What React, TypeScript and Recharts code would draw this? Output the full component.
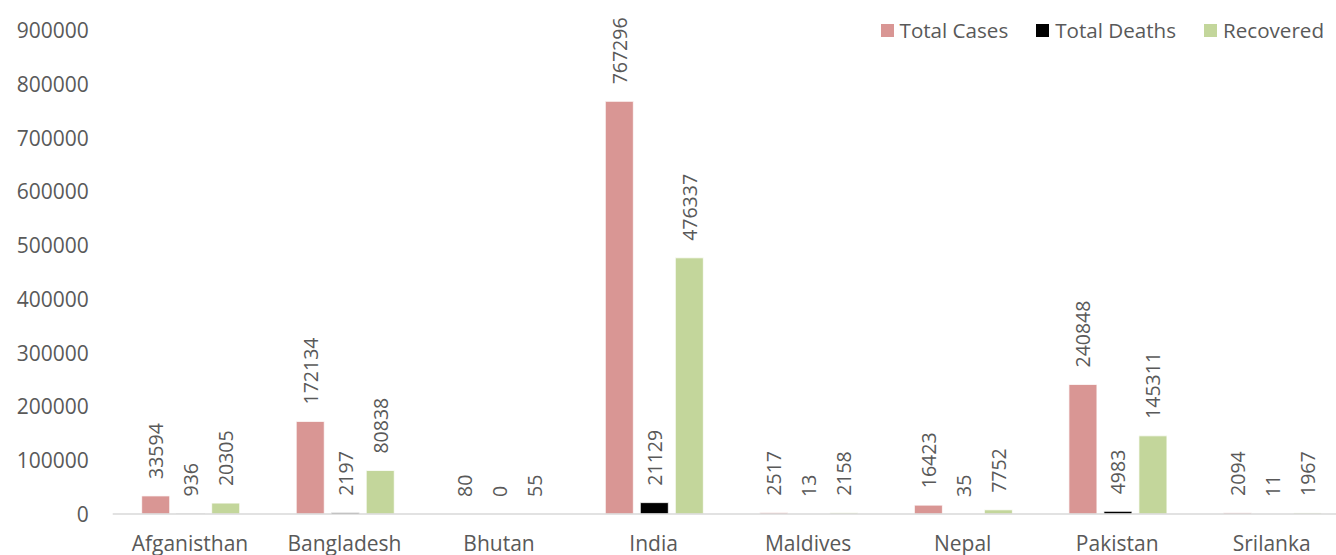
import React from "react";
import { BarChart, Bar, XAxis, YAxis, LabelList } from "recharts";

const countries = ["Afganisthan", "Bangladesh", "Bhutan", "India", "Maldives", "Nepal", "Pakistan", "Srilanka"];
const totalCases = [33594, 172134, 80, 767296, 2517, 16423, 240848, 2094];
const totalDeaths = [936, 2197, 0, 21129, 13, 35, 4983, 11];
const recovered = [20305, 80838, 55, 476337, 2158, 7752, 145311, 1967];
const yTicks = [0, 100000, 200000, 300000, 400000, 500000, 600000, 700000, 800000, 900000];

const series = [
  { key: "cases", name: "Total Cases", color: "#D99694" },
  { key: "deaths", name: "Total Deaths", color: "#000000" },
  { key: "recovered", name: "Recovered", color: "#C3D69B" },
];

const data = countries.map((c, i) => ({
  country: c,
  cases: totalCases[i],
  deaths: totalDeaths[i],
  recovered: recovered[i],
}));

const FONT = "'Open Sans', sans-serif";
const TEXT = "#595959";

const RotLabel = (props: any) => {
  const { x, y, width, value } = props;
  const cx = Number(x) + Number(width) / 2;
  const ty = Number(y) - 17;
  return (
    <text
      x={cx}
      y={ty}
      transform={`rotate(-90 ${cx} ${ty})`}
      textAnchor="start"
      dominantBaseline="central"
      fontFamily={FONT}
      fontSize={19.5}
      fill={TEXT}
    >
      {String(value ?? 0)}
    </text>
  );
};

const XTick = (props: any) => {
  const { x, y, payload } = props;
  return (
    <text x={x} y={y} dy={37} textAnchor="middle" fontFamily={FONT} fontSize={21} fill={TEXT}>
      {payload.value}
    </text>
  );
};

const YTick = (props: any) => {
  const { x, y, payload } = props;
  return (
    <text x={x} y={y} textAnchor="end" dominantBaseline="central" fontFamily={FONT} fontSize={21} fill={TEXT}>
      {payload.value}
    </text>
  );
};

export default function App() {
  return (
    <div
      style={{
        position: "absolute",
        left: 0,
        top: 0,
        width: 1336,
        height: 555,
        overflow: "hidden",
        background: "#fff",
      }}
    >
      <BarChart
        width={1350}
        height={555}
        data={data}
        margin={{ top: 30, right: 1, bottom: 0, left: 0 }}
        barCategoryGap={29}
        barGap={7}
      >
        <XAxis
          dataKey="country"
          axisLine={{ stroke: "#D9D9D9", strokeWidth: 1.5 }}
          tickLine={false}
          tickSize={0}
          tickMargin={0}
          height={41}
          tick={<XTick />}
          interval={0}
        />
        <YAxis
          domain={[0, 900000]}
          ticks={yTicks}
          axisLine={false}
          tickLine={false}
          tickSize={0}
          tickMargin={24}
          width={112.7}
          tick={<YTick />}
          interval={0}
        />
        {series.map((s) => (
          <Bar
            key={s.key}
            dataKey={s.key}
            name={s.name}
            fill={s.color}
            stroke="#FFFFFF"
            strokeWidth={0.75}
            minPointSize={0.01}
            isAnimationActive={false}
          >
            <LabelList dataKey={s.key} content={<RotLabel />} />
          </Bar>
        ))}
      </BarChart>
      <div
        style={{
          position: "absolute",
          right: 12,
          top: 16,
          display: "flex",
          alignItems: "center",
          gap: 28,
          fontFamily: FONT,
          fontSize: 20.6,
          color: TEXT,
          lineHeight: "28px",
        }}
      >
        {series.map((s) => (
          <div key={s.key} style={{ display: "flex", alignItems: "center", gap: 6 }}>
            <span style={{ display: "inline-block", width: 13, height: 13, background: s.color }} />
            <span>{s.name}</span>
          </div>
        ))}
      </div>
    </div>
  );
}
